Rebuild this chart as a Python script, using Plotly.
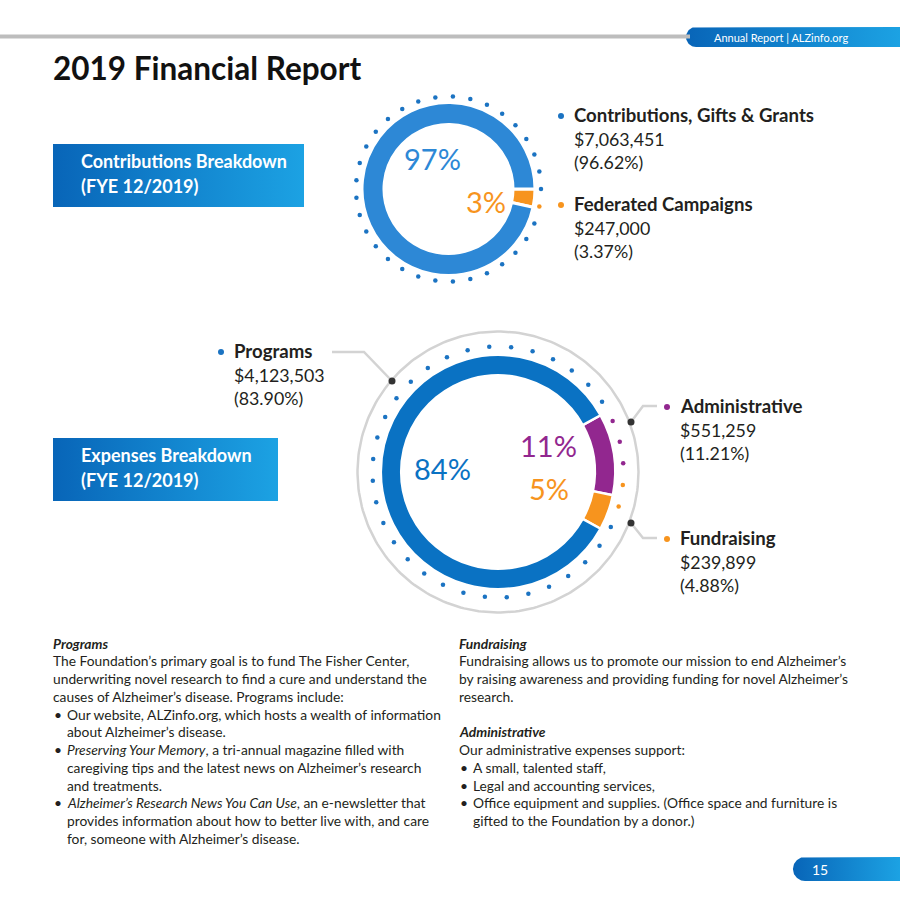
import numpy as np
import plotly.graph_objects as go

# ---------------- data ----------------
contrib_labels = ["Contributions, Gifts & Grants", "Federated Campaigns"]
contrib_values = [7063451, 247000]
contrib_pct = ["96.62%", "3.37%"]

expense_labels = ["Programs", "Administrative", "Fundraising"]
expense_values = [4123503, 551259, 239899]
expense_pct = ["83.90%", "11.21%", "4.88%"]

title_text = "2019 Financial Report"
header_text = "Annual Report | ALZinfo.org"
page_number = "15"
contrib_box = ["Contributions Breakdown", "(FYE 12/2019)"]
expense_box = ["Expenses Breakdown", "(FYE 12/2019)"]

# (kind, text): kind "h" heading, "p" paragraph, "b" bullet, "c" bullet continuation, "" blank
programs_body = [
    ("h", "<b><i>Programs</i></b>"),
    ("p", "The Foundation’s primary goal is to fund The Fisher Center,"),
    ("p", "underwriting novel research to find a cure and understand the"),
    ("p", "causes of Alzheimer’s disease. Programs include:"),
    ("b", "Our website, ALZinfo.org, which hosts a wealth of information"),
    ("c", "about Alzheimer’s disease."),
    ("b", "<i>Preserving Your Memory</i>, a tri-annual magazine filled with"),
    ("c", "caregiving tips and the latest news on Alzheimer’s research"),
    ("c", "and treatments."),
    ("b", "<i>Alzheimer’s Research News You Can Use</i>, an e-newsletter that"),
    ("c", "provides information about how to better live with, and care"),
    ("c", "for, someone with Alzheimer’s disease."),
]
right_body = [
    ("h", "<b><i>Fundraising</i></b>"),
    ("p", "Fundraising allows us to promote our mission to end Alzheimer’s"),
    ("p", "by raising awareness and providing funding for novel Alzheimer’s"),
    ("p", "research."),
    ("", ""),
    ("h", "<b><i>Administrative</i></b>"),
    ("p", "Our administrative expenses support:"),
    ("b", "A small, talented staff,"),
    ("b", "Legal and accounting services,"),
    ("b", "Office equipment and supplies. (Office space and furniture is"),
    ("c", "gifted to the Foundation by a donor.)"),
]

# ---------------- style ----------------
W = H = 900
BLUE_TOP = "#2d88d6"
BLUE = "#0a72c3"
DOT_BLUE = "#1b73c2"
ORANGE = "#f7941e"
PURPLE = "#92278f"
DARK = "#231f20"
GREY = "#d3d3d3"
GRAD = [[0, "#0865b8"], [1, "#1ca2e3"]]
HFONT = "Lato"
BFONT = "Lato"

fig = go.Figure()
annos = []


def txt(x, y, s, size, color=DARK, family=HFONT, xanchor="left"):
    annos.append(dict(x=x, y=y, xref="x", yref="y", text=s, showarrow=False,
                      xanchor=xanchor, yanchor="middle",
                      font=dict(size=size, color=color, family=family)))


def grad_poly(xs, ys):
    fig.add_trace(go.Scatter(x=xs, y=ys, mode="lines", fill="toself",
                             fillgradient=dict(type="horizontal", colorscale=GRAD),
                             line=dict(width=0, color="rgba(0,0,0,0)"),
                             hoverinfo="skip", showlegend=False))


def pill(x0, cy, r):
    t = np.linspace(np.pi / 2, 3 * np.pi / 2, 40)
    xs = [W] + list(x0 + r + r * np.cos(t)) + [W, W]
    ys = [cy - r] + list(cy - r * np.sin(t)) + [cy + r, cy - r]
    grad_poly(xs, ys)


def pie_domain(cx, cy, r):
    return dict(x=[(cx - r) / W, (cx + r) / W], y=[1 - (cy + r) / H, 1 - (cy - r) / H])


# ---------------- header / footer ----------------
fig.add_shape(type="line", x0=0, x1=690, y0=36.5, y1=36.5, xref="x", yref="y",
              line=dict(color="#bdbdbd", width=4))
pill(686, 37, 10)
txt(781, 37.5, header_text, 11, "white", HFONT, "center")
pill(793, 869, 12)
txt(820, 869, page_number, 14, "white", HFONT, "center")

txt(51, 68, f"<b>{title_text}</b>", 31.5, "#111111")

# ---------------- section boxes ----------------
grad_poly([53, 304, 304, 53, 53], [144, 144, 207, 207, 144])
txt(79, 161, f"<b>{contrib_box[0]}</b>", 18, "white")
txt(79, 186, f"<b>{contrib_box[1]}</b>", 18, "white")
grad_poly([53, 278, 278, 53, 53], [438, 438, 501, 501, 438])
txt(79, 455, f"<b>{expense_box[0]}</b>", 18, "white")
txt(79, 480, f"<b>{expense_box[1]}</b>", 18, "white")

# ---------------- contributions donut ----------------
c1x, c1y = 448.5, 189
fig.add_trace(go.Pie(
    labels=[contrib_labels[1], contrib_labels[0]],
    values=[contrib_values[1], contrib_values[0]],
    sort=False, direction="clockwise", rotation=90,
    hole=64.5 / 86.5, domain=pie_domain(c1x, c1y, 86.5),
    marker=dict(colors=[ORANGE, BLUE_TOP], line=dict(color="white", width=3)),
    textinfo="none", hoverinfo="label+value", showlegend=False))

# dotted ring (33 dots)
n1 = 33
ang1 = np.arange(n1) * 360 / n1
col1 = [ORANGE if (a > 360 - 360 * contrib_values[1] / sum(contrib_values)) else DOT_BLUE for a in ang1]
fig.add_trace(go.Scatter(x=c1x + 92.5 * np.cos(np.radians(ang1)),
                         y=c1y - 92.5 * np.sin(np.radians(ang1)),
                         mode="markers", marker=dict(size=4.5, color=col1),
                         hoverinfo="skip", showlegend=False))

c_share = [v / sum(contrib_values) for v in contrib_values]
txt(432, 158, f"{round(c_share[0] * 100)}%", 29, BLUE_TOP, HFONT, "center")
txt(486, 201, f"{round(c_share[1] * 100)}%", 29, ORANGE, HFONT, "center")

# legend texts
leg = [
    (561, 115, contrib_labels[0], contrib_values[0], contrib_pct[0], DOT_BLUE),
    (561, 204, contrib_labels[1], contrib_values[1], contrib_pct[1], ORANGE),
    (221, 351, expense_labels[0], expense_values[0], expense_pct[0], DOT_BLUE),
    (667, 406, expense_labels[1], expense_values[1], expense_pct[1], PURPLE),
    (667, 538, expense_labels[2], expense_values[2], expense_pct[2], ORANGE),
]
for bx, by, lab, val, pct, colr in leg:
    fig.add_trace(go.Scatter(x=[bx], y=[by + 1], mode="markers",
                             marker=dict(size=6, color=colr), hoverinfo="skip", showlegend=False))
    txt(bx + 11, by, f"<b>{lab}</b>", 18.6, DARK)
    txt(bx + 11, by + 24, f"${val:,}", 17.8, DARK)
    txt(bx + 11, by + 47, f"({pct})", 17.8, DARK)

# ---------------- expenses donut ----------------
c2x, c2y = 498, 472
e_total = sum(expense_values)
rot2 = 90 - 180 * (expense_values[1] + expense_values[2]) / e_total
fig.add_trace(go.Pie(
    labels=[expense_labels[1], expense_labels[2], expense_labels[0]],
    values=[expense_values[1], expense_values[2], expense_values[0]],
    sort=False, direction="clockwise", rotation=rot2,
    hole=96.8 / 117.2, domain=pie_domain(c2x, c2y, 117.2),
    marker=dict(colors=[PURPLE, ORANGE, BLUE], line=dict(color="white", width=2.5)),
    textinfo="none", hoverinfo="label+value", showlegend=False))

# grey outer circle
tt = np.linspace(0, 2 * np.pi, 240)
fig.add_trace(go.Scatter(x=c2x + 140.5 * np.cos(tt), y=c2y - 140.5 * np.sin(tt),
                         mode="lines", line=dict(color=GREY, width=2.5),
                         hoverinfo="skip", showlegend=False))

# dotted ring (36 dots), starting near top of purple arc going clockwise
n2 = 36
ang2 = 24 - np.arange(n2) * 10
col2 = [PURPLE] * 3 + [ORANGE] * 2 + [DOT_BLUE] * (n2 - 5)
fig.add_trace(go.Scatter(x=c2x + 125.5 * np.cos(np.radians(ang2)),
                         y=c2y - 125.5 * np.sin(np.radians(ang2)),
                         mode="markers", marker=dict(size=4.5, color=col2),
                         hoverinfo="skip", showlegend=False))

e_share = [v / e_total for v in expense_values]
txt(442, 468, f"{round(e_share[0] * 100)}%", 29, BLUE, HFONT, "center")
txt(548, 445, f"{round(e_share[1] * 100)}%", 29, PURPLE, HFONT, "center")
txt(549, 488, f"{round(e_share[2] * 100)}%", 29, ORANGE, HFONT, "center")

# leader lines
for xs, ys in [([332, 364, 392], [352, 352, 381]),
               ([657, 643, 631], [406, 406, 422]),
               ([657, 643, 631], [538, 538, 523])]:
    fig.add_trace(go.Scatter(x=xs, y=ys, mode="lines", line=dict(color=GREY, width=2.5),
                             hoverinfo="skip", showlegend=False))
fig.add_trace(go.Scatter(x=[392, 631, 631], y=[381, 422, 523], mode="markers",
                         marker=dict(size=7, color="#333333"), hoverinfo="skip", showlegend=False))

# ---------------- body text ----------------
LH = 17.75
BS = 13.8


def body(lines, x0, y0):
    for i, (kind, s) in enumerate(lines):
        if not kind:
            continue
        y = y0 + i * LH
        if kind == "b":
            txt(x0 + 1, y, "•", BS, DARK, BFONT)
            txt(x0 + 14, y, s, BS, DARK, BFONT)
        elif kind == "c":
            txt(x0 + 14, y, s, BS, DARK, BFONT)
        else:
            txt(x0, y, s, BS, DARK, BFONT)


body(programs_body, 51, 643)
body(right_body, 457, 643)

fig.update_layout(
    width=W, height=H, margin=dict(l=0, r=0, t=0, b=0, pad=0),
    paper_bgcolor="white", plot_bgcolor="white",
    xaxis=dict(range=[0, W], visible=False, fixedrange=True),
    yaxis=dict(range=[H, 0], visible=False, fixedrange=True),
    annotations=annos, showlegend=False,
)

fig.write_html("out.html", config={"displayModeBar": False},
               post_script="document.body.style.margin='0';document.body.style.overflow='hidden';")
